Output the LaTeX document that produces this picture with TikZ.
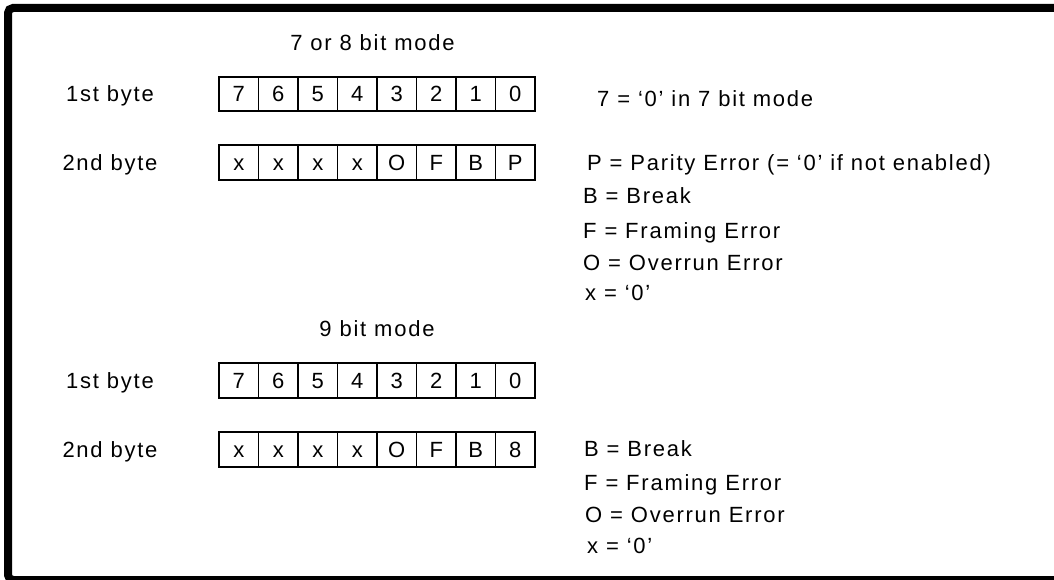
\documentclass[tikz,border=0pt]{standalone}
\usepackage{fontspec}
\setmainfont{Liberation Sans}[LetterSpace=8]
\begin{document}
\begin{tikzpicture}[x=1pt,y=-1pt,every node/.style={font=\fontsize{22}{26}\selectfont}]
	\tikzstyle{cadre}=[line width=8pt,rounded corners=5pt]
	\tikzstyle{case}=[draw,line width=1.6pt,minimum width=39.5pt,minimum height=34.5pt,inner sep=0pt,text height=15.75pt,text depth=0pt]
	\tikzstyle{titre}=[anchor=base,inner sep=0pt]
	\tikzstyle{legende}=[anchor=base west,inner sep=0pt]
	\def\Gauche{219}\def\LargeurCase{39.5}\def\Etiquette{110}\def\Legende{583}
	\def\LigneA{94}\def\LigneB{162.5}\def\LigneC{380.5}\def\LigneD{449.5}
	%
	\useasboundingbox (0,0) rectangle (1054,580);
	\clip (0,0) rectangle (1054,580);
	\draw[cadre] (8,8) rectangle (1080,580);
	%
	\node[titre] (ModeA) at (372.5,51) {7 or 8 bit mode};
	\node[titre] (OctetA) at (\Etiquette,{\LigneA+8}) {1st byte};
	\node[titre] (OctetB) at (\Etiquette,{\LigneB+8}) {2nd byte};
	\foreach \b [count=\i] in {7,6,5,4,3,2,1,0}
		\node[case] (CaseA\i) at ({\Gauche+(\i-0.5)*\LargeurCase},\LigneA) {\b};
	\foreach \b [count=\i] in {x,x,x,x,O,F,B,P}
		\node[case] (CaseB\i) at ({\Gauche+(\i-0.5)*\LargeurCase},\LigneB) {\b};
	\node[legende] (Sept) at (597,107) {7 = ‘0’ in 7 bit mode};
	\node[legende] (ParA) at (587,171) {P = Parity Error (= ‘0’ if not enabled)};
	\node[legende] (BrkA) at (\Legende,204) {B = Break};
	\node[legende] (FrmA) at (\Legende,238) {F = Framing Error};
	\node[legende] (OvrA) at (\Legende,270) {O = Overrun Error};
	\node[legende] (ZerA) at (585,300) {x = ‘0’};
	%
	\node[titre] (ModeB) at (377,336) {9 bit mode};
	\node[titre] (OctetC) at (\Etiquette,{\LigneC+8}) {1st byte};
	\node[titre] (OctetD) at (\Etiquette,{\LigneD+8}) {2nd byte};
	\foreach \b [count=\i] in {7,6,5,4,3,2,1,0}
		\node[case] (CaseC\i) at ({\Gauche+(\i-0.5)*\LargeurCase},\LigneC) {\b};
	\foreach \b [count=\i] in {x,x,x,x,O,F,B,8}
		\node[case] (CaseD\i) at ({\Gauche+(\i-0.5)*\LargeurCase},\LigneD) {\b};
	\node[legende] (BrkB) at (584,456) {B = Break};
	\node[legende] (FrmB) at (584,490) {F = Framing Error};
	\node[legende] (OvrB) at (585,522) {O = Overrun Error};
	\node[legende] (ZerB) at (587,553) {x = ‘0’};
\end{tikzpicture}
\end{document}
